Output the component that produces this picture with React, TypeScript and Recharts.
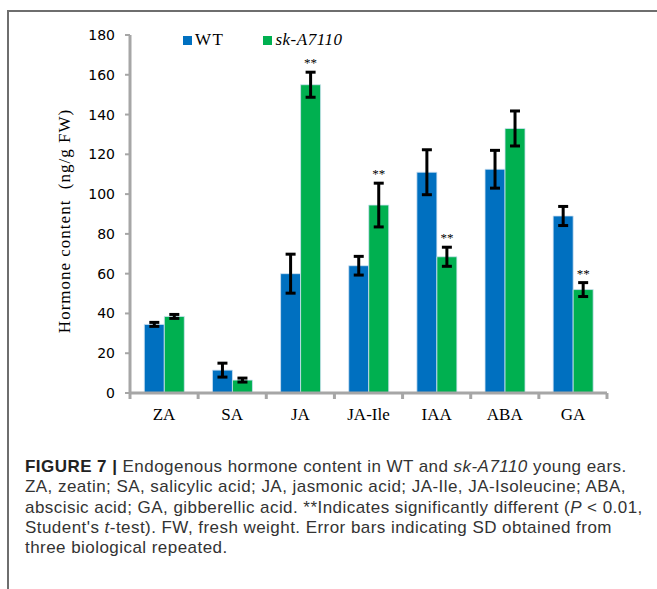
import React from "react";
import { BarChart, Bar, XAxis, YAxis, ErrorBar, LabelList } from "recharts";

// hormone categories along the x axis
const categories = ["ZA", "SA", "JA", "JA-Ile", "IAA", "ABA", "GA"];

// WT means and SD
const wtValues = [34.5, 11.5, 60, 64, 111, 112.5, 89];
const wtErrors = [1, 3.5, 9.8, 4.7, 11.3, 9.5, 4.8];

// sk-A7110 means and SD
const mutValues = [38.5, 6.5, 155, 94.5, 68.5, 133, 52];
const mutErrors = [1, 1, 6.3, 11, 4.8, 8.8, 3.5];

// ** marks (P < 0.01)
const significant = [false, false, true, true, true, false, true];

const yTicks = [0, 20, 40, 60, 80, 100, 120, 140, 160, 180];

const BLUE = "#0070C0";
const GREEN = "#00B050";
const AXIS = "#a6a6a6";

const CHART_W = 657;
const CHART_H = 440;
const MARGIN = { top: 35, right: 50, left: 0, bottom: 17 };
const Y_AXIS_W = 130;
const BAND = (CHART_W - MARGIN.left - MARGIN.right - Y_AXIS_W) / categories.length;

const data = categories.map((name, i) => ({
  name,
  wt: wtValues[i],
  wtErr: wtErrors[i],
  mut: mutValues[i],
  mutErr: mutErrors[i],
}));

// Excel style: tick marks sit between categories, not under them
const XTick = (props: any) => {
  const { x, y, payload, index } = props;
  return (
    <g>
      <line x1={x - BAND / 2} x2={x - BAND / 2} y1={y} y2={y + 6} stroke={AXIS} strokeWidth={3} />
      {index === categories.length - 1 && (
        <line x1={x + BAND / 2} x2={x + BAND / 2} y1={y} y2={y + 6} stroke={AXIS} strokeWidth={3} />
      )}
      <text x={x} y={y + 27} textAnchor="middle" fontFamily="'Liberation Serif', serif" fontSize={17} fill="#000">
        {payload.value}
      </text>
    </g>
  );
};

const renderStars = (props: any) => {
  const { x, y, width, height, index, value } = props;
  if (!significant[index]) return null;
  const errPx = (mutErrors[index] * height) / value;
  return (
    <text x={x + width / 2} y={y - errPx - 5} textAnchor="middle" fontFamily="'Liberation Serif', serif" fontSize={13} fill="#000">
      **
    </text>
  );
};

const yLabel = () => (
  <text
    transform="translate(70,221) rotate(-90)"
    textAnchor="middle"
    fontFamily="'Liberation Serif', serif"
    fontSize={17}
    letterSpacing={1}
    fill="#000"
    style={{ whiteSpace: "pre" }}
  >
    Hormone content  (ng/g FW)
  </text>
);

export default function App() {
  return (
    <div style={{ position: "absolute", left: 0, top: 0, width: 657, height: 589, background: "#fff", overflow: "hidden" }}>
      {/* figure frame */}
      <div style={{ position: "absolute", left: 7, top: 10, right: 0, bottom: 0, borderTop: "2px solid #6e6e6e", borderLeft: "2px solid #6e6e6e" }} />

      <div style={{ position: "absolute", left: 0, top: 0 }}>
        <BarChart width={CHART_W} height={CHART_H} data={data} margin={MARGIN} barCategoryGap="21%" barGap={0}>
          <XAxis
            dataKey="name"
            height={30}
            axisLine={{ stroke: AXIS, strokeWidth: 3 }}
            tickLine={false}
            tickSize={0}
            tickMargin={0}
            tick={<XTick />}
            interval={0}
          />
          <YAxis
            width={Y_AXIS_W}
            domain={[0, 180]}
            ticks={yTicks}
            interval={0}
            axisLine={{ stroke: AXIS, strokeWidth: 3 }}
            tickLine={{ stroke: AXIS, strokeWidth: 2 }}
            tickSize={5}
            tickMargin={10}
            tick={{ fontFamily: "'DejaVu Sans', sans-serif", fontSize: 14, fill: "#000" }}
            label={{ content: yLabel }}
          />
          <Bar dataKey="wt" fill={BLUE} stroke="#cfe2f3" strokeWidth={0.8} isAnimationActive={false}>
            <ErrorBar dataKey="wtErr" width={5} stroke="#000" strokeWidth={3} direction="y" />
          </Bar>
          <Bar dataKey="mut" fill={GREEN} stroke="#cfe2f3" strokeWidth={0.8} isAnimationActive={false}>
            <ErrorBar dataKey="mutErr" width={5} stroke="#000" strokeWidth={3} direction="y" />
            <LabelList dataKey="mut" content={renderStars} />
          </Bar>
        </BarChart>
      </div>

      {/* legend */}
      <div style={{ position: "absolute", left: 183, top: 30, display: "flex", alignItems: "center", fontFamily: "'Liberation Serif', serif", fontSize: 17, color: "#000" }}>
        <span style={{ width: 9, height: 9, background: BLUE, display: "inline-block", marginRight: 3 }} />
        <span style={{ letterSpacing: 1.5 }}>WT</span>
        <span style={{ width: 9, height: 9, background: GREEN, display: "inline-block", marginLeft: 39, marginRight: 3 }} />
        <span style={{ fontStyle: "italic", letterSpacing: 0.5 }}>sk-A7110</span>
      </div>

      {/* caption */}
      <div
        style={{
          position: "absolute",
          left: 25,
          top: 457,
          fontFamily: "'Liberation Sans', Arial, sans-serif",
          fontSize: 17,
          lineHeight: "20.3px",
          letterSpacing: 0.45,
          color: "#333",
          whiteSpace: "nowrap",
        }}
      >
        <b style={{ color: "#222" }}>FIGURE 7 |</b> Endogenous hormone content in WT and <i>sk-A7110</i> young ears.
        <br />
        ZA, zeatin; SA, salicylic acid; JA, jasmonic acid; JA-Ile, JA-Isoleucine; ABA,
        <br />
        abscisic acid; GA, gibberellic acid. **Indicates significantly different (<i>P</i> &lt; 0.01,
        <br />
        Student's <i>t</i>-test). FW, fresh weight. Error bars indicating SD obtained from
        <br />
        three biological repeated.
      </div>
    </div>
  );
}
